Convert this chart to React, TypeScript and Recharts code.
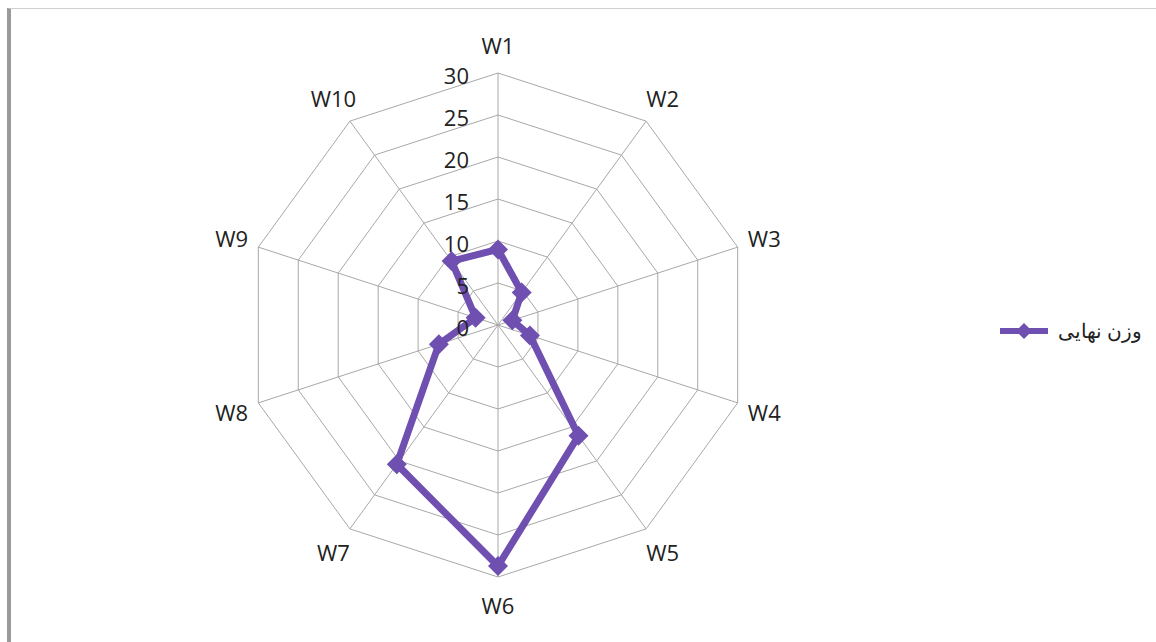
import { RadarChart, Radar, PolarGrid, PolarAngleAxis, PolarRadiusAxis, Legend } from "recharts";

const axes = ["W1", "W2", "W3", "W4", "W5", "W6", "W7", "W8", "W9", "W10"];
const finalWeight = [9, 4.8, 1.8, 4, 16.3, 28.7, 20.5, 7.4, 2.8, 9.4];
const radiusTicks = [0, 5, 10, 15, 20, 25, 30];
const seriesName = "وزن نهایی";

const data = axes.map((w, i) => ({ axis: w, value: finalWeight[i] }));

const CX = 487;
const CY = 316;
const R = 252;
const PURPLE = "#6f4fb0";
const FONT = "'Open Sans', sans-serif";

function AngleTick(props: any) {
  const { x, y, payload } = props;
  const dx = x - CX;
  const dy = y - CY;
  const d = Math.sqrt(dx * dx + dy * dy) || 1;
  const lx = CX + (dx / d) * 280;
  const ly = CY + (dy / d) * 280;
  return (
    <text x={lx} y={ly} textAnchor="middle" dominantBaseline="central" fontSize={22} fontFamily={FONT} fill="#222">
      {payload.value}
    </text>
  );
}

function RadiusTick(props: any) {
  const { x, y, payload } = props;
  return (
    <text x={x - 29} y={y + 2} textAnchor="end" dominantBaseline="central" fontSize={22} fontFamily={FONT} fill="#222">
      {payload.value}
    </text>
  );
}

function Diamond(props: any) {
  const { cx, cy } = props;
  const s = 10;
  return <polygon points={`${cx},${cy - s} ${cx + s},${cy} ${cx},${cy + s} ${cx - s},${cy}`} fill={PURPLE} />;
}

function LegendBox() {
  return (
    <div style={{ display: "flex", alignItems: "center", fontFamily: FONT, fontSize: 20, color: "#222" }}>
      <svg width={52} height={22}>
        <line x1={2} y1={11} x2={50} y2={11} stroke={PURPLE} strokeWidth={6} />
        <polygon points="26,3 34,11 26,19 18,11" fill={PURPLE} />
      </svg>
      <span dir="rtl" style={{ marginLeft: 8 }}>{seriesName}</span>
    </div>
  );
}

export default function App() {
  return (
    <div style={{ position: "fixed", left: 0, top: 0, width: 1156, height: 642, background: "#fff" }}>
      <div style={{ position: "absolute", left: 7, top: 8, width: 1149, height: 634, borderTop: "1px solid #cfcfcf", borderLeft: "4px solid #9a9a9a", boxSizing: "border-box" }}>
        <RadarChart width={1145} height={633} data={data} cx={CX} cy={CY} outerRadius={R} startAngle={90} endAngle={-270}>
          <PolarGrid gridType="polygon" stroke="#a8a8a8" strokeWidth={1} />
          <PolarAngleAxis dataKey="axis" tick={<AngleTick />} tickLine={false} axisLine={false} />
          <PolarRadiusAxis angle={90} domain={[0, 30]} ticks={radiusTicks} tickCount={7} tick={<RadiusTick />} axisLine={false} />
          <Radar
            name={seriesName}
            dataKey="value"
            stroke={PURPLE}
            strokeWidth={7}
            fill="none"
            fillOpacity={0}
            dot={<Diamond />}
            isAnimationActive={false}
          />
          <Legend layout="vertical" align="right" verticalAlign="middle" content={<LegendBox />} wrapperStyle={{ right: 14, top: 308 }} />
        </RadarChart>
      </div>
    </div>
  );
}
